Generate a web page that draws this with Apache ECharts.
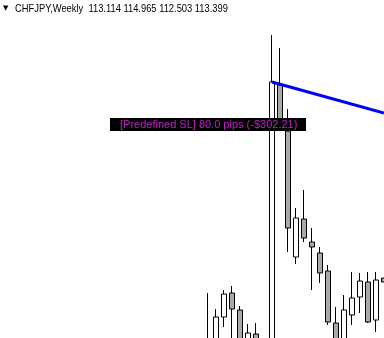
<!DOCTYPE html>
<html><head><meta charset="utf-8">
<script src="https://cdn.jsdelivr.net/npm/echarts@6/dist/echarts.min.js"></script>
<style>html,body{margin:0;padding:0;background:#fff}#c{width:384px;height:338px}</style>
</head><body><div id="c"></div>
<script>
// Weekly bars (index order left to right)
const weeks = ['W01','W02','W03','W04','W05','W06','W07','W08','W09','W10','W11','W12','W13','W14','W15','W16','W17','W18','W19','W20','W21','W22','W23'];
const opens  = [110.40,110.75,112.15,113.35,112.50,110.90,111.30,110.75,110.40,123.75,121.45,115.15,117.05,115.90,115.35,114.45,111.85,110.90,112.25,113.15,113.90,112.00,114.10];
const closes = [110.75,112.15,113.30,112.55,110.90,111.35,110.75,110.40,123.90,121.80,116.60,117.10,116.10,115.65,114.35,111.90,110.75,112.50,113.10,113.95,111.90,114.00,113.90];
const lows   = [110.20,110.50,111.65,110.75,110.60,110.75,110.50,110.00,110.20,121.60,115.40,114.80,115.90,113.50,113.85,111.75,110.50,110.60,111.75,112.35,111.85,111.40,113.90];
const highs  = [113.35,112.55,113.50,113.70,112.70,111.80,111.85,111.00,126.25,125.60,122.55,117.60,118.50,116.60,115.65,114.75,112.65,113.25,114.40,114.35,114.40,114.40,114.10];
// Trend line (blue) anchor values
const trendValues = [null,null,null,null,null,null,null,null,123.90,null,null,null,null,null,null,null,null,null,null,null,null,null,122.35];
// Texts
const symbolLabel = 'CHFJPY,Weekly';
const headerOHLC = ['113.114','114.965','112.503','113.399'];
const slText = '[Predefined SL] 80.0 pips (-$302.21)';

const candleData = weeks.map((w,i)=>[opens[i],closes[i],lows[i],highs[i]]);

const chart = echarts.init(document.getElementById('c'), null, {renderer:'canvas'});
chart.setOption({
  animation:false,
  backgroundColor:'#ffffff',
  grid:{left:204, top:0, right:-4, bottom:0, outerBoundsMode:'none', containLabel:false},
  xAxis:{type:'category', data:weeks, boundaryGap:true, show:false},
  yAxis:{type:'value', min:111.1, max:128, show:false, splitLine:{show:false}},
  series:[
    {type:'candlestick', data:candleData, barWidth:5, clip:true,
     itemStyle:{color:'#ffffff', color0:'#a8a8a8', borderColor:'#000000', borderColor0:'#000000', borderWidth:1}},
    {type:'line', data:trendValues, connectNulls:true, showSymbol:false, symbol:'none',
     lineStyle:{color:'#0000ff', width:3}, z:5}
  ],
  graphic:[
    {type:'text', left:3, top:5, z:100, style:{text:'▼', font:'7px "DejaVu Sans"', fill:'#000'}},
    {type:'text', x:15, y:3, scaleX:0.85, z:100, style:{text:symbolLabel + '  ' + headerOHLC.join(' '), font:'11px "Liberation Sans"', fill:'#000'}},
    {type:'group', left:110, top:118, z:100, children:[
      {type:'rect', z:100, shape:{x:0,y:0,width:196,height:13}, style:{fill:'#000'}},
      {type:'text', z:101, x:10, y:1, style:{text:slText, font:'11px "Liberation Sans"', fill:'#c020c8'}}
    ]}
  ]
});
</script>
</body></html>
